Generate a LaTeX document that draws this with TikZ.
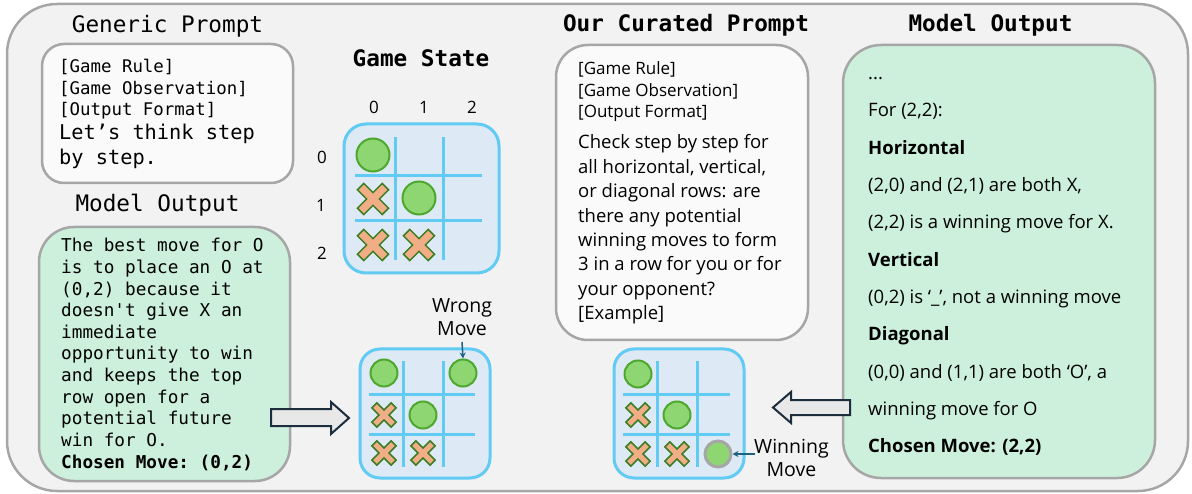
\documentclass[tikz,border=0pt]{standalone}
\usepackage{fontspec}
\setmainfont{Open Sans}
\setmonofont{DejaVu Sans Mono}
\usetikzlibrary{arrows.meta}
\definecolor{bgc}{HTML}{F2F2F2}
\definecolor{bdc}{HTML}{A6A6A6}
\definecolor{whc}{HTML}{FAFAFA}
\definecolor{grc}{HTML}{CDF0DC}
\definecolor{bdfill}{HTML}{DDEAF6}
\definecolor{bdline}{HTML}{61CBF3}
\definecolor{ofill}{HTML}{8ED672}
\definecolor{oline}{HTML}{4EA72E}
\definecolor{xfill}{HTML}{F1AE86}
\definecolor{xline}{HTML}{3B7D23}
\definecolor{arrfill}{HTML}{E8E8E8}
\definecolor{arrline}{HTML}{1C2E3E}
\definecolor{ptr}{HTML}{1F5F80}
\tikzset{
  ttl/.style={font=\ttfamily\fontsize{22.7}{26}\selectfont, inner sep=0pt},
  ttlb/.style={font=\ttfamily\bfseries\fontsize{22.7}{26}\selectfont, inner sep=0pt},
  wbox/.style={draw=bdc, fill=whc, line width=2.5pt},
  gbox/.style={draw=bdc, fill=grc, line width=2.5pt},
  monoA/.style={font=\ttfamily\fontsize{17.4}{21.5}\selectfont, inner sep=0pt, anchor=base west},
  monoB/.style={font=\ttfamily\fontsize{20.3}{25}\selectfont, inner sep=0pt, anchor=base west},
  monoC/.style={font=\ttfamily\fontsize{17.7}{21.6}\selectfont, inner sep=0pt, anchor=base west},
  sansA/.style={font=\fontsize{17}{21}\selectfont, inner sep=0pt, anchor=base west},
  sansB/.style={font=\fontsize{18.5}{24}\selectfont, inner sep=0pt, anchor=base west},
  numlab/.style={font=\fontsize{17}{20}\selectfont, inner sep=0pt},
  lab/.style={font=\fontsize{19.5}{23.5}\selectfont, inner sep=0pt, align=center},
  board/.style={draw=bdline, fill=bdfill, line width=3pt},
  gridl/.style={draw=bdline, line width=3pt},
  ocirc/.style={circle, draw=oline, fill=ofill, line width=2pt, inner sep=0pt},
  wcirc/.style={circle, draw=bdc, fill=ofill, line width=3pt, inner sep=0pt},
  xstyle/.style={draw=xline, fill=xfill, line width=1.5pt, line join=miter},
  xmark/.pic={\draw[xstyle, rotate=45] (4.5,17.5) -- (4.5,4.5) -- (17.5,4.5) -- (17.5,-4.5) -- (4.5,-4.5) -- (4.5,-17.5) -- (-4.5,-17.5) -- (-4.5,-4.5) -- (-17.5,-4.5) -- (-17.5,4.5) -- (-4.5,4.5) -- (-4.5,17.5) -- cycle;},
  harrow/.style={draw=arrline, fill=arrfill, line width=2pt, line join=miter},
  ptrarrow/.style={draw=ptr, line width=1.5pt, -{Stealth[length=6pt,width=6pt]}}
}
\begin{document}
\begin{tikzpicture}[x=1pt,y=-1pt]
\useasboundingbox (0,0) rectangle (1192,494);
\draw[draw=bdc, fill=bgc, line width=2.5pt, rounded corners=50pt] (7,4) rectangle (1188,491);

% titles
\node[ttl, anchor=base] (tGP) at (167.5,33) {Generic Prompt};
\node[ttl, anchor=base] (tMOL) at (157.5,212) {Model Output};
\node[ttlb, anchor=base] (tGS) at (421,67) {Game State};
\node[ttlb, anchor=base] (tCP) at (686,32) {Our Curated Prompt};
\node[ttlb, anchor=base] (tMOR) at (990.5,32) {Model Output};

% generic prompt
\draw[wbox, rounded corners=22pt] (42,44) rectangle (293,183);
\foreach \t [count=\i] in {{[Game Rule]},{[Game Observation]},{[Output Format]}}
  \node[monoA] (gp\i) at (59,{73+21.5*(\i-1)}) {\t};
\foreach \t [count=\i] in {{Let’s think step},{by step.}}
  \node[monoB] (gq\i) at (59,{140+25*(\i-1)}) {\t};

% left model output
\draw[gbox, rounded corners=35pt] (39,227) rectangle (290,481);
\foreach \t [count=\i] in {{The best move for O},{is to place an O at},{(0,2) because it},{doesn't give X an},{immediate},{opportunity to win},{and keeps the top},{row open for a},{potential future},{win for O.},{\textbf{Chosen Move: (0,2)}}}
  \node[monoC] (mo\i) at (61,{252+21.6*(\i-1)}) {\t};

% curated prompt
\draw[wbox, rounded corners=32pt] (556,45) rectangle (808,340);
\foreach \t [count=\i] in {{[Game Rule]},{[Game Observation]},{[Output Format]}}
  \node[sansA] (cp\i) at (578,{75+21.5*(\i-1)}) {\t};
\foreach \t [count=\i] in {{Check step by step for},{all horizontal, vertical,},{or diagonal rows: are},{there any potential},{winning moves to form},{3 in a row for you or for},{your opponent?},{[Example]}}
  \node[sansB] (cq\i) at (578,{149+24.4*(\i-1)}) {\t};

% right model output
\draw[gbox, rounded corners=38pt] (843,45) rectangle (1155,478);
\node[sansB] (ro0) at (868,80) {...};
\foreach \t [count=\i] in {{For (2,2):},{\textbf{Horizontal}},{(2,0) and (2,1) are both X,},{(2,2) is a winning move for X.},{\textbf{Vertical}},{(0,2) is ‘\_’, not a winning move},{\textbf{Diagonal}},{(0,0) and (1,1) are both ‘O’, a},{winning move for O},{\textbf{Chosen Move: (2,2)}}}
  \node[sansB] (ro\i) at (868,{117+37.3*(\i-1)}) {\t};

% top board
\node[numlab] (col0) at (374,107) {0};
\node[numlab] (col1) at (424,107) {1};
\node[numlab] (col2) at (472,107) {2};
\node[numlab] (row0) at (322,157) {0};
\node[numlab] (row1) at (321,205) {1};
\node[numlab] (row2) at (322,253) {2};
\draw[board, rounded corners=22pt] (344,124) rectangle (499,273);
\draw[gridl] (395,137) -- (395,260) (443,137) -- (443,260) (355,176) -- (482,176) (355,221) -- (482,221);
\node[ocirc, minimum size=33pt] (a00) at (373,155) {};
\node[ocirc, minimum size=33pt] (a11) at (419,198) {};
\pic (a10) at (373,199) {xmark};
\pic (a20) at (373,245) {xmark};
\pic (a21) at (419,245) {xmark};

% bottom-left board
\draw[board, rounded corners=20pt] (360,349) rectangle (490,478);
\draw[gridl] (403,361) -- (403,467) (443,361) -- (443,467) (369,395) -- (475,395) (369,434) -- (475,434);
\node[ocirc, minimum size=27pt] (b00) at (384,373) {};
\node[ocirc, minimum size=27pt] (b02) at (463,373) {};
\node[ocirc, minimum size=27pt] (b11) at (423,415) {};
\pic[scale=0.78] (b10) at (384,415) {xmark};
\pic[scale=0.78] (b20) at (384,453) {xmark};
\pic[scale=0.78] (b21) at (423,453) {xmark};
\node[lab, anchor=south] (wm) at (462,336) {Wrong\\Move};
\draw[ptrarrow] ([yshift=-6pt]wm.south) -- (b02.north);

% bottom-right board
\draw[board, rounded corners=20pt] (614,349) rectangle (744,478);
\draw[gridl] (657,361) -- (657,467) (697,361) -- (697,467) (623,395) -- (730,395) (623,434) -- (730,434);
\node[ocirc, minimum size=27pt] (c00) at (638,374) {};
\node[ocirc, minimum size=27pt] (c11) at (677,415) {};
\node[wcirc, minimum size=26pt] (c22) at (718,454) {};
\pic[scale=0.78] (c10) at (638,415) {xmark};
\pic[scale=0.78] (c20) at (638,454) {xmark};
\pic[scale=0.78] (c21) at (677,454) {xmark};
\node[lab, anchor=west] (wn) at (754,458) {Winning\\Move};
\draw[ptrarrow] ([xshift=1pt]wn.west |- c22.east) -- (c22.east);

% hollow arrows
\draw[harrow] (271,409) -- (331,409) -- (331,402) -- (349,418) -- (331,434) -- (331,426) -- (271,426) -- cycle;
\draw[harrow] (850,400) -- (791,400) -- (791,392) -- (773,407.5) -- (791,423) -- (791,415) -- (850,415) -- cycle;
\end{tikzpicture}
\end{document}
